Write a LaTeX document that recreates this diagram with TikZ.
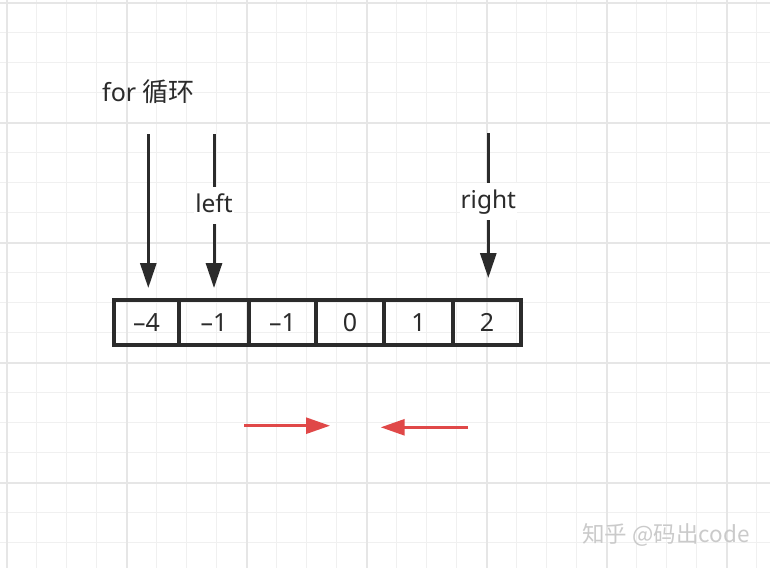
\documentclass[tikz,border=0pt]{standalone}
\usepackage{fontspec}
\setmainfont{Noto Sans}
\newfontfamily\cjk{Noto Sans CJK SC}
\usetikzlibrary{arrows.meta}
\definecolor{ink}{HTML}{2B2B2B}
\definecolor{redarrow}{HTML}{E04848}
\definecolor{gridminor}{HTML}{F0F0F0}
\definecolor{gridmajor}{HTML}{E6E6E6}
\definecolor{wmark}{HTML}{CACACA}
\begin{document}
\begin{tikzpicture}[x=1pt,y=-1pt,
  cell/.style={draw=ink, line width=3.3pt, minimum height=45pt, inner sep=0pt, outer sep=0pt,
    font=\fontsize{25}{29}\selectfont, text=ink, anchor=west},
  ptr/.style={draw=ink, line width=3pt, -{Triangle[length=25pt,width=16pt]}},
  mv/.style={draw=redarrow, line width=2.7pt, -{Triangle[length=24pt,width=16pt]}},
  lbl/.style={fill=white, font=\fontsize{24.5}{28}\selectfont, text=ink,
    inner xsep=1pt, inner ysep=7pt, text height=18pt, text depth=5pt}]
\useasboundingbox (0,0) rectangle (770,568);
\fill[white] (0,0) rectangle (770,568);
% grid
\foreach \i in {0,...,25} {\draw[gridminor, line width=1pt] ({6.7+30*\i},0) -- ({6.7+30*\i},568);}
\foreach \j in {0,...,18} {\draw[gridminor, line width=1pt] (0,{2.7+30*\j}) -- (770,{2.7+30*\j});}
\foreach \i in {0,...,6} {\draw[gridmajor, line width=1.6pt] ({6.7+120*\i},0) -- ({6.7+120*\i},568);}
\foreach \j in {0,...,4} {\draw[gridmajor, line width=1.6pt] (0,{2.7+120*\j}) -- (770,{2.7+120*\j});}
% array cells
\node[cell, minimum width=65pt] (c1) at (114,322.5) {–4};
\node[cell, minimum width=70pt] (c2) at (179,322.5) {–1};
\node[cell, minimum width=67pt] (c3) at (249,322.5) {–1};
\node[cell, minimum width=68pt] (c4) at (316,322.5) {0};
\node[cell, minimum width=69pt] (c5) at (384,322.5) {1};
\node[cell, minimum width=68pt] (c6) at (453,322.5) {2};
% pointer labels and arrows
\node[font=\fontsize{25}{29}\selectfont, text=ink, anchor=base] (forlbl) at (148.5,101.7) {for {\cjk\fontsize{26}{30}\selectfont 循环}};
\coordinate (forTop) at (148.3,134);
\coordinate (leftTop) at (214,134);
\coordinate (rightTop) at (488.3,133);
\draw[ptr, shorten >=12pt] (forTop) -- (forTop |- c1.north);
\draw[ptr, shorten >=12pt] (leftTop) -- node[lbl, pos=0.432] (leftlbl) {left} (leftTop |- c2.north);
\draw[ptr, shorten >=22pt] (rightTop) -- node[lbl, pos=0.411] (rightlbl) {right} (rightTop |- c6.north);
% red movement arrows
\coordinate (r1s) at (244,425.7);
\coordinate (r1e) at (330,425.7);
\coordinate (r2s) at (468,427.3);
\coordinate (r2e) at (380.7,427.3);
\draw[mv] (r1s) -- (r1e);
\draw[mv] (r2s) -- (r2e);
% watermark
\node[font=\cjk\fontsize{22.5}{26}\selectfont, text=wmark] (wm) at (666,535) {知乎 @码出code};
\end{tikzpicture}
\end{document}
